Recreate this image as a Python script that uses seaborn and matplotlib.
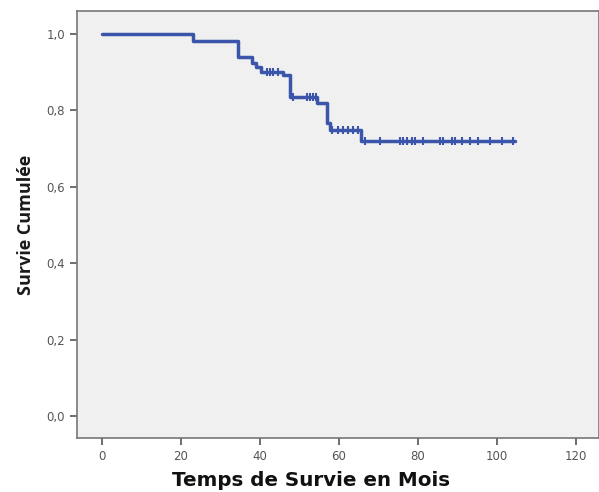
import matplotlib
matplotlib.use("Agg")
import matplotlib.pyplot as plt
import seaborn as sns
import pandas as pd
from matplotlib.ticker import FuncFormatter

# Kaplan-Meier step data
step_times = [0, 23, 34.4, 37.9, 39.0, 40.3, 45.8, 47.6, 54.4, 56.9, 57.7, 65.7, 104.5]
step_surv = [1.0, 0.982, 0.939, 0.924, 0.914, 0.901, 0.893, 0.836, 0.818, 0.766, 0.749, 0.72, 0.72]

# censored observations
cens_times = [41.7, 42.5, 43.4, 44.6,
              48.4, 51.8, 52.7, 53.5, 54.2,
              58.2, 59.8, 61.1, 62.3, 63.6, 64.9,
              66.6, 70.4, 75.4, 76.3, 77.2, 78.4, 79.2, 81.3, 85.6, 86.4,
              88.5, 89.4, 91.1, 93.2, 95.3, 98.2, 101.2, 104.1]
cens_surv = [0.901] * 4 + [0.836] * 5 + [0.749] * 6 + [0.72] * 18

x_ticks = [0, 20, 40, 60, 80, 100, 120]
y_ticks = [0.0, 0.2, 0.4, 0.6, 0.8, 1.0]

sns.set_style("white")
plt.rcParams['font.family'] = ['DejaVu Sans']

fig = plt.figure(figsize=(5.99, 4.92), dpi=100)
ax = fig.add_axes([0.1285, 0.1098, 0.8715, 0.8678])
ax.set_facecolor("#F0F0F0")

blue = "#3A55A9"
df_step = pd.DataFrame({"t": step_times, "s": step_surv})
sns.lineplot(data=df_step, x="t", y="s", drawstyle="steps-post", color=blue,
             linewidth=2.5, ax=ax, estimator=None, sort=False)
df_c = pd.DataFrame({"t": cens_times, "s": cens_surv})
sns.scatterplot(data=df_c, x="t", y="s", marker="|", color=blue, s=40,
                linewidth=1.5, ax=ax, zorder=3)

ax.set_xlim(-6.3, 125.8)
ax.set_ylim(-0.0576, 1.060)
ax.set_xticks(x_ticks)
ax.set_yticks(y_ticks)
ax.yaxis.set_major_formatter(FuncFormatter(lambda v, p: f"{v:.1f}".replace(".", ",")))
ax.tick_params(axis="both", direction="out", length=5, width=1.2, color="#555555",
               labelsize=8.5, labelcolor="#555555", left=True, bottom=True)
for sp in ax.spines.values():
    sp.set_color("#777777")
    sp.set_linewidth(1.2)

ax.set_xlabel("Temps de Survie en Mois", family="DejaVu Sans", fontweight="bold",
              fontsize=14.3, color="#111111")
ax.xaxis.set_label_coords(0.448, -0.077)
ax.set_ylabel("Survie Cumulée", family="Open Sans", fontstretch="condensed",
              fontweight="bold", fontsize=13, color="#1a1a1a")
ax.yaxis.set_label_coords(-0.08, 0.5)

fig.savefig("out.png", dpi=100)
